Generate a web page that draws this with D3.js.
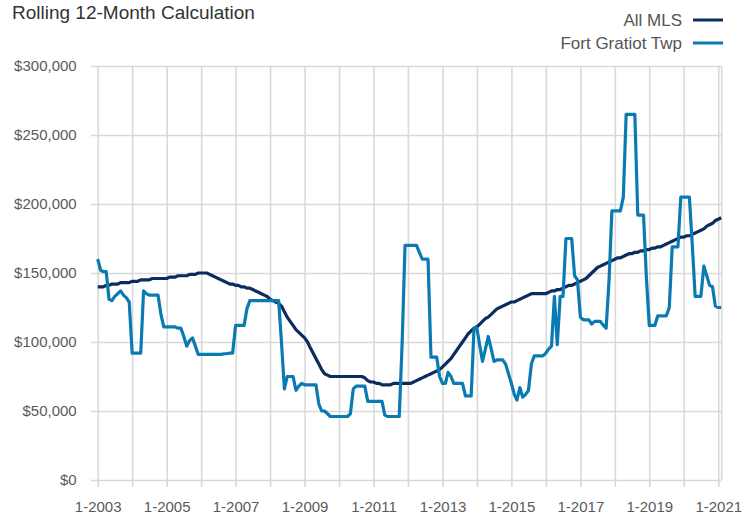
<!DOCTYPE html>
<html><head><meta charset="utf-8">
<script src="https://cdn.jsdelivr.net/npm/d3@7"></script>
<style>
body{margin:0;background:#fff;}
svg{display:block;}
text{font-family:"Liberation Sans",Arial,Helvetica,sans-serif;}
</style>
</head><body>
<svg id="chart" width="755" height="515"></svg>
<script>
// ---- data (values in thousands of dollars, monthly from 1-2003) ----
const startYear = 2003;
const allMLS = [
 140,140,140,141,141,142,142,142,143,143,143,143,
 144,144,144,145,145,145,145,146,146,146,146,146,
 146,147,147,147,148,148,148,148,149,149,149,150,
 150,150,150,149,148,147,146,145,144,143,142,142,
 141,141,140,140,139,139,138,137,136,135,134,133,
 131,130,129,128,126,122,118,115,112,109,107,105,
 103,100,96,92,88,84,80,77,76,75,75,75,
 75,75,75,75,75,75,75,75,75,74,72,71,
 71,70,70,69,69,69,69,70,70,70,70,70,
 70,70,71,72,73,74,75,76,77,78,79,80,
 82,84,86,88,91,94,97,100,103,106,108,110,
 111,113,115,117,118,120,122,124,125,126,127,128,
 129,129,130,131,132,133,134,135,135,135,135,135,
 135,136,137,137,138,138,139,140,141,141,142,143,
 144,145,146,148,150,152,154,155,156,157,158,159,
 160,161,161,162,163,164,164,165,165,166,166,167,
 167,168,168,169,169,170,171,172,173,174,175,176,
 176,177,177,178,179,180,181,182,184,185,186,188,
 189,190
];
const fortGratiot = [
 160,152,151,151,131,130,133,135,137,134,132,129,
 92,92,92,92,137,135,134,134,134,134,120,111,
 111,111,111,111,110,110,104,97,101,103,97,91,
 91,91,91,91,91,91,91,91,91.5,91.5,92,92,
 112,112,112,112,124,130,130,130,130,130,130,130,
 130,130,130,130,100,66,75,75,75,65,68,70,
 69,69,69,69,69,55,50,50,48,46,46,46,
 46,46,46,46,48,66,68,68,68,68,57,57,
 57,57,57,57,47,46,46,46,46,46,100,170,
 170,170,170,170,165,160,160,160,89,89,89,75,
 70,70,78,75,70,70,70,70,61,61,61,110,
 110,97,86,95,104,95,86,87,87,87,84,77,
 70,62,58,67,60,62,65,84,90,90,90,90,
 92,95,97,133,98,133,133,175,175,175,148,145,
 118,116,116,116,113,115,115,115,112,110,145,195,
 195,195,195,205,265,265,265,265,192,192,192,147,
 112,112,112,119,119,119,119,125,169,169,169,205,
 205,205,205,170,133,133,133,155,148,141,140,126,
 125,125
];
const seriesNames = ["All MLS","Fort Gratiot Twp"];
const yTickValues = [0,50,100,150,200,250,300];
const yTickLabels = ["$0","$50,000","$100,000","$150,000","$200,000","$250,000","$300,000"];
const xTickYears = [2003,2004,2005,2006,2007,2008,2009,2010,2011,2012,2013,2014,2015,2016,2017,2018,2019,2020,2021];
const xTickLabels = ["1-2003","","1-2005","","1-2007","","1-2009","","1-2011","","1-2013","","1-2015","","1-2017","","1-2019","","1-2021"];
const titleText = "Rolling 12-Month Calculation";

// ---- drawing ----
const colors = ["#0b2c5e","#0a7ab2"];
const svg = d3.select("#chart");
const L = 97.7, R = 721.2, T = 66, B = 480;
const months = allMLS.map((_, i) => new Date(startYear, i, 1));
const x = d3.scaleTime().domain([months[0], months[months.length-1]]).range([L, R]);
const y = d3.scaleLinear().domain([0,300]).range([B, T]);
const gridColor = "#d9d9d9";

// horizontal gridlines + y labels
const yAxis = d3.axisLeft(y).tickValues(yTickValues)
  .tickFormat((d,i) => yTickLabels[i]).tickSizeInner(-(R - L + 7)).tickSizeOuter(0).tickPadding(14);
const gy = svg.append("g").attr("transform", `translate(${L-7},0)`).call(yAxis);
gy.select(".domain").remove();
gy.selectAll(".tick line").attr("stroke", gridColor).attr("stroke-width", 1.6);
gy.selectAll(".tick text").attr("fill", "#5a5a5a").style("font-size","15px");

// vertical gridlines + x labels
const xAxis = d3.axisBottom(x).tickValues(xTickYears.map(yr => new Date(yr,0,1)))
  .tickFormat((d,i) => xTickLabels[i]).tickSizeInner(B - T + 7).tickSizeOuter(0).tickPadding(14.3);
const gx = svg.append("g").attr("transform", `translate(0,${T})`).call(xAxis);
gx.select(".domain").remove();
gx.selectAll(".tick line").attr("stroke", gridColor).attr("stroke-width", 1.6);
gx.selectAll(".tick text").attr("fill", "#5a5a5a").style("font-size","15px");

// right border
svg.append("line").attr("x1", R+0.5).attr("x2", R+0.5).attr("y1", T).attr("y2", B)
  .attr("stroke", gridColor).attr("stroke-width", 1.6);

const line = d3.line().x((d,i) => x(months[i])).y(d => y(d));
svg.append("path").datum(allMLS).attr("d", line).attr("fill","none")
  .attr("stroke", colors[0]).attr("stroke-width", 3.2).attr("stroke-linejoin","round");
svg.append("path").datum(fortGratiot).attr("d", line).attr("fill","none")
  .attr("stroke", colors[1]).attr("stroke-width", 3.2).attr("stroke-linejoin","round");

// title
svg.append("text").attr("x", 12).attr("y", 18.5).text(titleText)
  .attr("fill", "#333").style("font-size","19px");

// legend
const lg = svg.append("g");
seriesNames.forEach((name, i) => {
  const cy = 20 + i*23;
  lg.append("text").attr("x", 682).attr("y", cy + 6).attr("text-anchor","end")
    .attr("fill","#555").style("font-size","17px").text(name);
  lg.append("line").attr("x1", 693).attr("x2", 723).attr("y1", cy).attr("y2", cy)
    .attr("stroke", colors[i]).attr("stroke-width", 3);
});
</script>
</body></html>
